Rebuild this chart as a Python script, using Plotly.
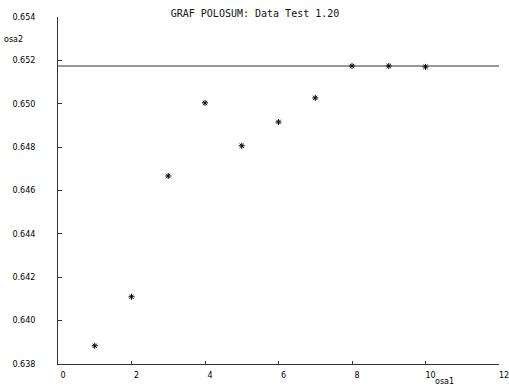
import plotly.graph_objects as go

x_vals = [1, 2, 3, 4, 5, 6, 7, 8, 9, 10]
y_vals = [0.63884, 0.64110, 0.64667, 0.65004, 0.64806, 0.64916, 0.65027, 0.65174, 0.65174, 0.65170]
ref_x = [0, 12]
ref_y = [0.65174, 0.65174]
x_ticks = [0, 2, 4, 6, 8, 10, 12]
y_ticks = [0.638, 0.640, 0.642, 0.644, 0.646, 0.648, 0.650, 0.652, 0.654]
title_text = "GRAF POLOSUM: Data Test 1.20"

fig = go.Figure()
fig.add_trace(go.Scatter(x=ref_x, y=ref_y, mode="lines",
                         line=dict(color="#333333", width=1), showlegend=False))
fig.add_trace(go.Scatter(x=x_vals, y=y_vals, mode="markers",
                         marker=dict(symbol="asterisk-open", size=5, color="black",
                                     line=dict(color="black", width=1)),
                         showlegend=False))

axis_font = dict(family="DejaVu Sans", size=8, color="black")
fig.update_layout(
    width=509, height=387,
    margin=dict(l=58, r=10, t=17, b=23, autoexpand=False),
    paper_bgcolor="white", plot_bgcolor="white",
    title=dict(text=title_text, x=0.501, xanchor="center", y=1 - 13 / 387, yanchor="middle",
               font=dict(family="DejaVu Sans Mono", size=10, color="#111111")),
    xaxis=dict(range=[0, 12], tickvals=x_ticks, ticktext=[str(t) for t in x_ticks],
               showgrid=False, zeroline=False, showline=True, linecolor="#333333", linewidth=1,
               ticks="inside", ticklen=3, tickcolor="#333333", tickfont=axis_font,
               ticklabelshift=5, ticklabelstandoff=3, automargin=False,
               ticklabeloverflow="allow"),
    yaxis=dict(range=[0.638, 0.654], tickvals=y_ticks, ticktext=["%.3f" % t for t in y_ticks],
               showgrid=False, zeroline=False, showline=True, linecolor="#333333", linewidth=1,
               ticks="inside", ticklen=4, tickcolor="#333333", tickfont=axis_font,
               ticklabelstandoff=20, automargin=False, ticklabeloverflow="allow"),
    annotations=[
        dict(text="osa2", xref="paper", yref="paper", x=(2 - 58) / 441, y=(364 - 39) / 347,
             xanchor="left", yanchor="middle", showarrow=False, font=axis_font),
        dict(text="osa1", xref="paper", yref="paper", x=(444 - 58) / 441, y=(364 - 381) / 347,
             xanchor="center", yanchor="middle", showarrow=False, font=axis_font),
    ],
)
fig.write_html("out.html", config={"displayModeBar": False},
               post_script="document.body.style.margin='0';")
